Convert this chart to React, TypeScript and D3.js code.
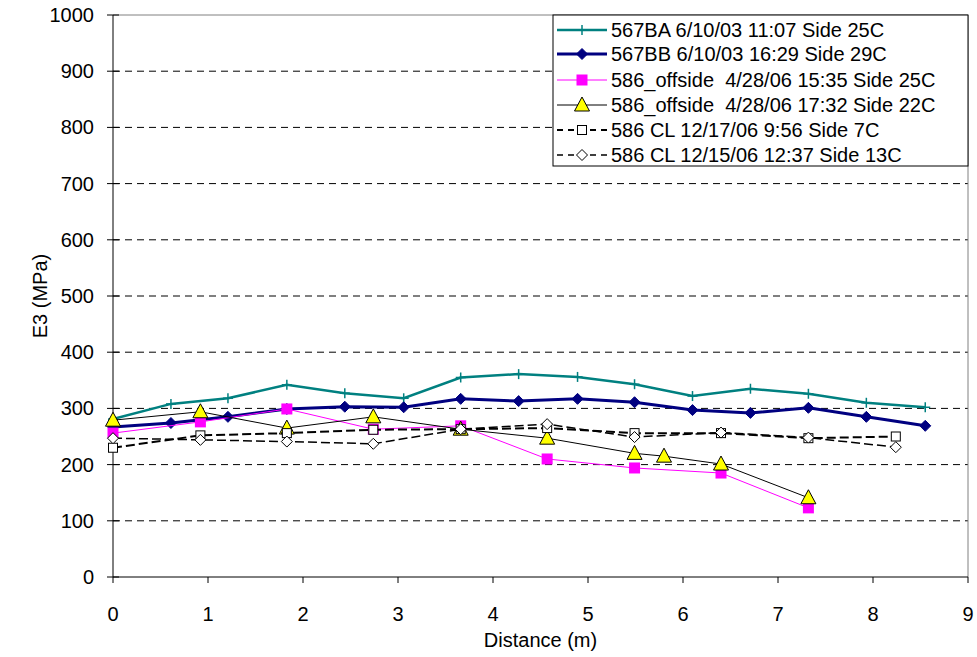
import React from "react";
import * as d3 from "d3";

const xTicks = [0, 1, 2, 3, 4, 5, 6, 7, 8, 9];
const yTicks = [0, 100, 200, 300, 400, 500, 600, 700, 800, 900, 1000];

const baX = [0, 0.61, 1.21, 1.83, 2.44, 3.06, 3.66, 4.27, 4.89, 5.49, 6.1, 6.71, 7.32, 7.93, 8.55];
const baY = [281, 308, 318, 342, 327, 318, 355, 361, 356, 343, 322, 335, 326, 310, 302];
const bbY = [267, 274, 285, 299, 303, 302, 317, 313, 317, 311, 297, 292, 301, 285, 269];

const offAX = [0, 0.92, 1.83, 2.74, 3.66, 4.57, 5.49, 6.4, 7.32];
const offAY = [256, 276, 299, 263, 269, 210, 194, 185, 123];

const offBX = [0, 0.92, 1.83, 2.74, 3.66, 4.57, 5.49, 5.8, 6.4, 7.32];
const offBY = [279, 294, 265, 285, 263, 247, 220, 215, 201, 141];

const clX = [0, 0.92, 1.83, 2.74, 3.66, 4.57, 5.49, 6.4, 7.32, 8.24];
const clAY = [230, 252, 256, 262, 263, 265, 256, 256, 247, 250];
const clBY = [247, 244, 241, 237, 263, 272, 249, 257, 248, 231];

const labels = [
  "567BA 6/10/03 11:07 Side 25C",
  "567BB 6/10/03 16:29 Side 29C",
  "586_offside  4/28/06 15:35 Side 25C",
  "586_offside  4/28/06 17:32 Side 22C",
  "586 CL 12/17/06 9:56 Side 7C",
  "586 CL 12/15/06 12:37 Side 13C",
];

type Marker = "plus" | "diamond" | "square" | "triangle" | "osquare" | "odiamond";

const FONT = "Liberation Sans, Arial, sans-serif";
const FS = 20;

function MarkerShape({ type, x, y }: { type: Marker; x: number; y: number }) {
  switch (type) {
    case "plus":
      return (
        <g stroke="#008080" strokeWidth={1.5}>
          <line x1={x - 5} x2={x + 5} y1={y} y2={y} />
          <line x1={x} x2={x} y1={y - 5} y2={y + 5} />
        </g>
      );
    case "diamond":
      return <path d={`M${x},${y - 5.5}L${x + 5.5},${y}L${x},${y + 5.5}L${x - 5.5},${y}Z`} fill="#000080" stroke="#000080" />;
    case "square":
      return <rect x={x - 5.5} y={y - 5.5} width={11} height={11} fill="#FF00FF" />;
    case "triangle":
      return <path d={`M${x},${y - 8}L${x + 7.5},${y + 6}L${x - 7.5},${y + 6}Z`} fill="#FFFF00" stroke="#000" strokeWidth={1} />;
    case "osquare":
      return <rect x={x - 4.5} y={y - 4.5} width={9} height={9} fill="#fff" stroke="#000" strokeWidth={1} />;
    case "odiamond":
      return <path d={`M${x},${y - 5.5}L${x + 5.5},${y}L${x},${y + 5.5}L${x - 5.5},${y}Z`} fill="#fff" stroke="#000" strokeWidth={1} />;
  }
}

export default function App() {
  const W = 977;
  const H = 657;
  const left = 113, right = 968, top = 15, bottom = 577;
  const x = d3.scaleLinear().domain([0, 9]).range([left, right]);
  const y = d3.scaleLinear().domain([0, 1000]).range([bottom, top]);

  const series = [
    { xs: baX, ys: baY, color: "#008080", width: 2.5, dash: undefined as string | undefined, marker: "plus" as Marker },
    { xs: baX, ys: bbY, color: "#000080", width: 3, dash: undefined, marker: "diamond" as Marker },
    { xs: offAX, ys: offAY, color: "#FF00FF", width: 1, dash: undefined, marker: "square" as Marker },
    { xs: offBX, ys: offBY, color: "#000000", width: 1, dash: undefined, marker: "triangle" as Marker },
    { xs: clX, ys: clAY, color: "#000000", width: 2, dash: "9,4", marker: "osquare" as Marker },
    { xs: clX, ys: clBY, color: "#000000", width: 1.5, dash: "9,4", marker: "odiamond" as Marker },
  ];

  const line = d3
    .line<[number, number]>()
    .x((d) => x(d[0]))
    .y((d) => y(d[1]));

  const legX = 553, legY = 15, legW = 415, legH = 151;
  const rowY = [30, 54, 80, 105, 130, 155];

  return (
    <svg width={W} height={H} style={{ position: "absolute", left: 0, top: 0, background: "#fff" }} fontFamily={FONT}>
      <rect x={0} y={0} width={W} height={H} fill="#fff" />
      {yTicks.filter((t) => t > 0 && t < 1000).map((t) => (
        <line key={t} x1={left} x2={right} y1={y(t)} y2={y(t)} stroke="#000" strokeWidth={1} strokeDasharray="7,5" />
      ))}
      <line x1={left} x2={right} y1={top} y2={top} stroke="#808080" strokeWidth={1} />
      <line x1={right} x2={right} y1={top} y2={bottom} stroke="#808080" strokeWidth={1} />
      <line x1={left} x2={left} y1={top} y2={bottom} stroke="#000" strokeWidth={1} />
      <line x1={left} x2={right} y1={bottom} y2={bottom} stroke="#000" strokeWidth={1} />
      {yTicks.map((t) => (
        <g key={t}>
          <line x1={left - 6} x2={left + 6} y1={y(t)} y2={y(t)} stroke="#000" />
          <text x={94} y={y(t)} dy="0.35em" textAnchor="end" fontSize={FS}>
            {t}
          </text>
        </g>
      ))}
      {xTicks.map((t) => (
        <g key={t}>
          <line x1={x(t)} x2={x(t)} y1={bottom} y2={bottom + 6} stroke="#000" />
          <text x={x(t)} y={621} textAnchor="middle" fontSize={FS}>
            {t}
          </text>
        </g>
      ))}
      <text x={(left + right) / 2} y={647} textAnchor="middle" fontSize={FS}>
        Distance (m)
      </text>
      <text transform={`translate(47,${(top + bottom) / 2}) rotate(-90)`} textAnchor="middle" fontSize={FS}>
        E3 (MPa)
      </text>
      {series.map((s, i) => {
        const pts = s.xs.map((v, j) => [v, s.ys[j]] as [number, number]);
        return (
          <g key={i}>
            <path d={line(pts) || ""} fill="none" stroke={s.color} strokeWidth={s.width} strokeDasharray={s.dash} />
            {pts.map((p, j) => (
              <MarkerShape key={j} type={s.marker} x={x(p[0])} y={y(p[1])} />
            ))}
          </g>
        );
      })}
      <rect x={legX} y={legY} width={legW} height={legH} fill="#fff" stroke="#000" strokeWidth={1} />
      {series.map((s, i) => (
        <g key={i}>
          <line x1={legX + 4} x2={legX + 54} y1={rowY[i]} y2={rowY[i]} stroke={s.color} strokeWidth={s.width} strokeDasharray={s.dash ? "6,5" : undefined} />
          <MarkerShape type={s.marker} x={legX + 29} y={rowY[i]} />
          <text x={611} y={rowY[i]} dy="0.35em" fontSize={FS} style={{ whiteSpace: "pre" }}>
            {labels[i]}
          </text>
        </g>
      ))}
    </svg>
  );
}
